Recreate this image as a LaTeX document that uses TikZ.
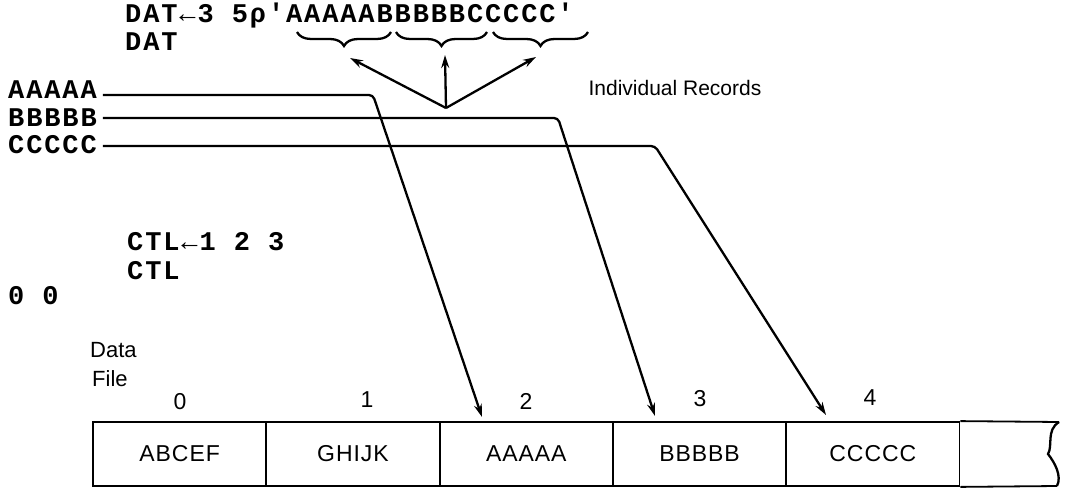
\documentclass[tikz,border=0pt]{standalone}
\usepackage{fontspec}
\setmainfont{Liberation Sans}
\newfontfamily\aplfont[LetterSpace=7,Ligatures=TeXOff]{Liberation Mono Bold}
\newfontfamily\labfont{Liberation Sans}
\newfontfamily\cellfont[LetterSpace=4]{Liberation Sans}
\usetikzlibrary{decorations.pathreplacing,arrows.meta}
\begin{document}
\begin{tikzpicture}[x=1pt,y=-1pt,
  arr/.style={line width=2.3pt,-{Stealth[length=13pt,width=8pt]}},
  apltext/.style={font=\aplfont\fontsize{27}{27}\selectfont, anchor=base west, inner sep=0pt},
  lab/.style={font=\labfont\fontsize{21}{21}\selectfont, inner sep=0pt},
  idx/.style={font=\labfont\fontsize{23}{23}\selectfont, inner sep=0pt},
  cell/.style={draw, line width=1.8pt, minimum width=173.3pt, minimum height=64pt, inner sep=0pt,
    font=\cellfont\fontsize{23}{23}\selectfont},
  brc/.style={decorate, decoration={brace, mirror, amplitude=14pt}, line width=2.3pt}
]
\useasboundingbox (0,0) rectangle (1065,489);

% APL session text
\node[apltext] (cmd) at (125,23) {DAT←3 5ρ'AAAAABBBBBCCCCC'};
\node[apltext] (dat) at (125,51) {DAT};
\node[apltext] (lA) at (8,99) {AAAAA};
\node[apltext] (lB) at (8,127) {BBBBB};
\node[apltext] (lC) at (8,154) {CCCCC};
\node[apltext] (ctl1) at (127,250) {CTL←1 2 3};
\node[apltext] (ctl2) at (127,279) {CTL};
\node[apltext] (zeros) at (8,304) {0 0};

% braces under the records
\draw[brc] (297,32) -- (391,32);
\draw[brc] (396,32) -- (487,32);
\draw[brc] (493,32) -- (588,32);
\coordinate (bA) at (350,58);
\coordinate (bB) at (445,55);
\coordinate (bC) at (536,57);
\coordinate (hub) at (446,108);
\draw[arr] (hub) -- (bA);
\draw[arr] (hub) -- (bB);
\draw[arr] (hub) -- (bC);

\node[lab, anchor=center] (ir) at (675,88) {Individual Records};

% data file
\node[lab, anchor=base west, font=\labfont\fontsize{22}{22}\selectfont] (data) at (90,357) {Data};
\node[lab, anchor=base west, font=\labfont\fontsize{22}{22}\selectfont] (file) at (92,386) {File};

\node[cell] (c0) at (179.65,454) {ABCEF};
\node[cell] (c1) at (352.95,454) {GHIJK};
\node[cell] (c2) at (526.25,454) {AAAAA};
\node[cell] (c3) at (699.55,454) {BBBBB};
\node[cell] (c4) at (872.85,454) {CCCCC};
\coordinate (endT) at (1059,422);
\coordinate (endB) at (1057,486);
\draw[line width=1.8pt] (c4.north east) -- (endT);
\draw[line width=1.8pt] (c4.south east) -- (endB);
\draw[line width=2.3pt] (endT) .. controls (1046,430) and (1053,446) .. (1048,454)
  .. controls (1055,463) and (1062,476) .. (endB);

\node[idx] (i0) at (180,402) {0};
\node[idx] (i1) at (367,400) {1};
\node[idx] (i2) at (526,401) {2};
\node[idx] (i3) at (700,399) {3};
\node[idx] (i4) at (870,398) {4};

% record connectors
\coordinate (kA) at (373,95);
\coordinate (kB) at (558,118);
\coordinate (kC) at (655,146);
\coordinate (tA) at (482,417);
\coordinate (tB) at (655,416);
\coordinate (tC) at (826,415);
\draw[arr, rounded corners=4pt] ([xshift=6pt,yshift=4pt]lA.base east) -- (kA) -- (tA);
\draw[arr, rounded corners=4pt] ([xshift=6pt,yshift=9pt]lB.base east) -- (kB) -- (tB);
\draw[arr, rounded corners=4pt] ([xshift=6pt,yshift=8pt]lC.base east) -- (kC) -- (tC);
\end{tikzpicture}
\end{document}
